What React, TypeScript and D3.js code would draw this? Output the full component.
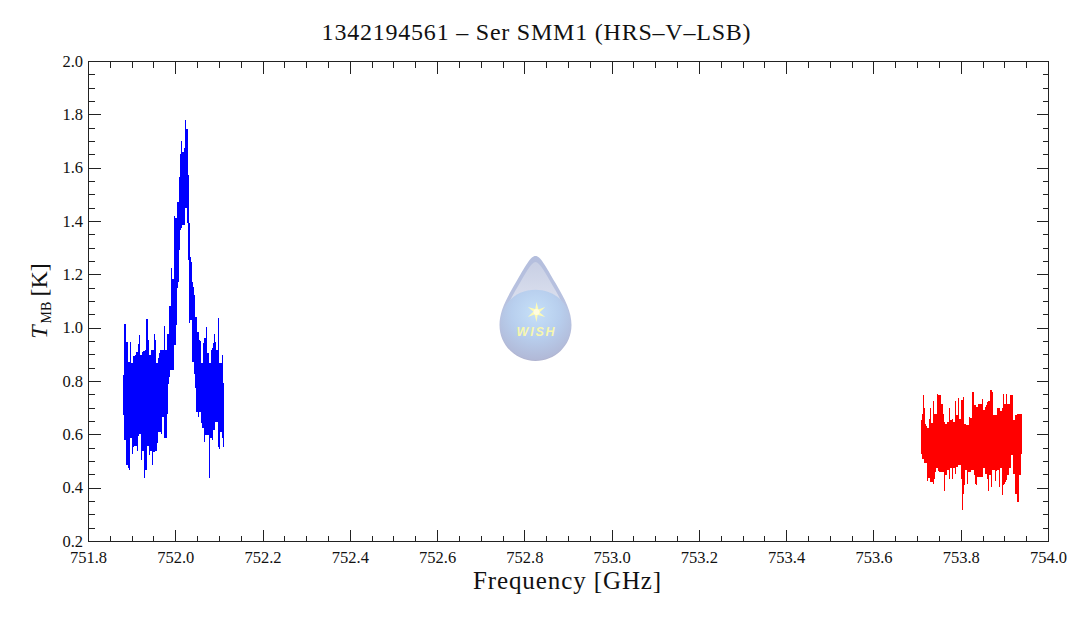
import * as d3 from 'd3'

const width = 1072
const height = 618

const title = '1342194561 – Ser SMM1 (HRS–V–LSB)'
const xLabels = ['751.8', '752.0', '752.2', '752.4', '752.6', '752.8', '753.0', '753.2', '753.4', '753.6', '753.8', '754.0']
const yLabels = ['0.2', '0.4', '0.6', '0.8', '1.0', '1.2', '1.4', '1.6', '1.8', '2.0']

// spectrum channels, one [high, low] envelope per binned frequency step
const channelStep = 0.0022917
const blueStart = 751.8802
const redStart = 753.709

const blueHigh = [
  0.824, 1.015, 1.015, 0.9, 0.948, 0.873, 0.835, 0.95, 0.861, 0.869, 0.895, 0.84, 0.9, 0.91, 0.9, 0.94, 0.974, 0.9, 0.884, 0.91,
  0.914, 0.88, 0.918, 1.035, 1.035, 0.955, 0.877, 0.9, 0.918, 0.918, 0.843, 0.98, 0.955, 0.861, 0.869, 0.89, 0.907, 0.918, 0.8, 0.92,
  0.92, 1.008, 0.873, 0.918, 0.98, 0.975, 1.083, 1.057, 1.226, 1.185, 1.18, 1.42, 1.414, 1.32, 1.474, 1.474, 1.568, 1.654, 1.703, 1.545,
  1.662, 1.677, 1.782, 1.748, 1.748, 1.575, 1.395, 1.267, 1.249, 1.173, 1.155, 1.124, 0.993, 1.042, 0.944, 0.985, 0.955, 0.952, 0.83, 0.869,
  0.944, 0.963, 0.955, 1.004, 0.869, 0.907, 0.854, 0.869, 0.918, 0.926, 0.944, 0.98, 0.949, 0.887, 0.918, 1.038, 0.84, 0.869, 0.869, 0.899,
  0.794
]
const blueLow = [
  0.674, 0.58, 0.628, 0.486, 0.565, 0.474, 0.47, 0.59, 0.587, 0.53, 0.553, 0.59, 0.56, 0.63, 0.54, 0.595, 0.605, 0.655, 0.504, 0.54,
  0.605, 0.437, 0.53, 0.47, 0.63, 0.56, 0.523, 0.54, 0.568, 0.486, 0.655, 0.534, 0.568, 0.538, 0.568, 0.636, 0.61, 0.674, 0.605, 0.674,
  0.666, 0.59, 0.59, 0.59, 0.68, 0.79, 0.816, 0.887, 0.843, 0.887, 0.843, 0.985, 0.937, 1.012, 1.15, 1.173, 1.294, 1.369, 1.376, 1.455,
  1.387, 1.387, 1.455, 1.451, 1.395, 1.256, 1.02, 1.03, 1.068, 0.873, 0.918, 0.83, 0.775, 0.685, 0.685, 0.666, 0.719, 0.685, 0.643, 0.625,
  0.635, 0.572, 0.62, 0.598, 0.61, 0.598, 0.44, 0.635, 0.587, 0.58, 0.625, 0.62, 0.655, 0.65, 0.655, 0.553, 0.548, 0.666, 0.61, 0.59,
  0.553
]
const redHigh = [
  0.655, 0.677, 0.749, 0.699, 0.639, 0.634, 0.624, 0.599, 0.661, 0.702, 0.645, 0.639, 0.727, 0.634, 0.68, 0.624, 0.755, 0.661, 0.749, 0.749,
  0.624, 0.717, 0.68, 0.649, 0.634, 0.642, 0.649, 0.636, 0.701, 0.636, 0.655, 0.661, 0.649, 0.63, 0.726, 0.639, 0.674, 0.739, 0.63, 0.661,
  0.73, 0.596, 0.742, 0.611, 0.642, 0.636, 0.636, 0.586, 0.667, 0.664, 0.661, 0.761, 0.761, 0.655, 0.711, 0.705, 0.667, 0.714, 0.667, 0.717,
  0.699, 0.736, 0.692, 0.617, 0.705, 0.711, 0.724, 0.727, 0.671, 0.77, 0.77, 0.761, 0.674, 0.667, 0.674, 0.671, 0.699, 0.655, 0.701, 0.63,
  0.689, 0.701, 0.752, 0.717, 0.699, 0.755, 0.661, 0.717, 0.661, 0.751, 0.649, 0.749, 0.655, 0.655, 0.674, 0.661, 0.68, 0.68, 0.661, 0.68,
  0.68
]
const redLow = [
  0.53, 0.509, 0.524, 0.495, 0.495, 0.495, 0.426, 0.474, 0.439, 0.424, 0.424, 0.449, 0.414, 0.436, 0.459, 0.511, 0.476, 0.464, 0.459, 0.459,
  0.524, 0.459, 0.486, 0.389, 0.449, 0.449, 0.467, 0.486, 0.436, 0.474, 0.536, 0.436, 0.53, 0.474, 0.455, 0.486, 0.48, 0.486, 0.486, 0.514,
  0.436, 0.317, 0.38, 0.411, 0.467, 0.524, 0.417, 0.511, 0.461, 0.461, 0.486, 0.467, 0.467, 0.449, 0.417, 0.411, 0.486, 0.442, 0.474, 0.442,
  0.474, 0.442, 0.474, 0.492, 0.455, 0.474, 0.436, 0.389, 0.449, 0.486, 0.405, 0.467, 0.467, 0.542, 0.426, 0.464, 0.467, 0.467, 0.405, 0.474,
  0.476, 0.374, 0.411, 0.417, 0.424, 0.43, 0.455, 0.449, 0.492, 0.474, 0.524, 0.524, 0.455, 0.455, 0.38, 0.449, 0.349, 0.349, 0.449, 0.449,
  0.53
]

const x = d3.scaleLinear().domain([751.8, 754.0]).range([88.5, 1048.5])
const y = d3.scaleLinear().domain([0.2, 2.0]).range([541.5, 61.5])

const axisColor = '#222'
const serif = '"Liberation Serif", serif'

const Spectrum = ({ start, high, low, color }) => (
  <g stroke={color} strokeWidth={1} shapeRendering='crispEdges'>
    {high.map((h, i) => {
      const px = Math.round(x(start + i * channelStep) - 0.5) + 0.5
      // the trace is one connected line, so a channel also covers what both neighbours cover
      const prev = Math.max(i - 1, 0)
      const next = Math.min(i + 1, high.length - 1)
      const top = Math.max(h, Math.min(high[prev], high[next]))
      const bottom = Math.min(low[i], Math.max(low[prev], low[next]))
      return <line key={i} x1={px} x2={px} y1={y(top)} y2={y(bottom)} />
    })}
  </g>
)

const Logo = () => (
  <g transform='translate(535.5 256)'>
    <defs>
      <linearGradient id='dropBody' x1='0' x2='0' y1='0' y2='1'>
        <stop offset='0' stopColor='#b4bedd' />
        <stop offset='0.6' stopColor='#b9c3e1' />
        <stop offset='1' stopColor='#b0b4d0' />
      </linearGradient>
      <linearGradient id='dropShine' x1='0' x2='0' y1='0' y2='1'>
        <stop offset='0' stopColor='#c8cfe4' />
        <stop offset='1' stopColor='#e2e6f2' />
      </linearGradient>
      <radialGradient id='dropCore' cx='0.5' cy='0.33' r='0.68'>
        <stop offset='0' stopColor='#c6e0f8' />
        <stop offset='0.5' stopColor='#b8cfee' />
        <stop offset='1' stopColor='#b1b8d6' />
      </radialGradient>
    </defs>
    <path d='M0 0 C5 0 10 10 20 27 C30 44 36 56 36 69 C36 90 19 105 0 105 C-19 105 -36 90 -36 69 C-36 56 -30 44 -20 27 C-10 10 -5 0 0 0 Z' fill='url(#dropBody)' />
    <path d='M0 6 C4 6 10 17 18 31 C25 43 30 52 31 62 L-31 62 C-30 52 -25 43 -18 31 C-10 17 -4 6 0 6 Z' fill='url(#dropShine)' />
    <path d='M-35 69 C-35 22 35 22 35 69 C35 90 18 104 0 104 C-18 104 -35 90 -35 69 Z' fill='url(#dropCore)' />
    {[0, 60, 120].map((a) => (
      <path key={a} d='M0 -10 L2 -2 L0 10 L-2 2 Z' transform={`translate(1 56) rotate(${a})`} fill='#fdfbb4' />
    ))}
    <circle cx={1} cy={56} r={3} fill='#fffde0' />
    <text x={1} y={80} textAnchor='middle' fontFamily='"Liberation Sans", sans-serif' fontWeight='bold' fontStyle='italic' fontSize={12.5} letterSpacing={1.8} fill='#f7f7ae'>
      WISH
    </text>
  </g>
)

const Axes = () => {
  const xMinor = d3.range(0, 45).map((i) => 751.8 + i * 0.05)
  const yMinor = d3.range(0, 37).map((i) => 0.2 + i * 0.05)
  const [left, right] = x.range()
  const [bottom, top] = y.range()
  return (
    <g stroke={axisColor} strokeWidth={1} shapeRendering='crispEdges'>
      {xMinor.map((v, i) => {
        const len = i % 4 === 0 ? 12 : 6
        const px = Math.round(x(v) - 0.5) + 0.5
        return (
          <g key={i}>
            <line x1={px} x2={px} y1={bottom} y2={bottom - len} />
            <line x1={px} x2={px} y1={top} y2={top + len} />
          </g>
        )
      })}
      {yMinor.map((v, i) => {
        const len = i % 4 === 0 ? 12 : 6
        const py = Math.round(y(v) - 0.5) + 0.5
        return (
          <g key={i}>
            <line x1={left} x2={left + len} y1={py} y2={py} />
            <line x1={right} x2={right - len} y1={py} y2={py} />
          </g>
        )
      })}
      <rect x={left} y={top} width={right - left} height={bottom - top} fill='none' />
    </g>
  )
}

const App = () => {
  return (
    <svg width={width} height={height} style={{ position: 'absolute', left: 0, top: 0, background: 'white' }} fontFamily={serif}>
      <text x={536.5} y={40} textAnchor='middle' fontSize={24} letterSpacing={0.78} fill='#111'>
        {title}
      </text>
      <Logo />
      <Spectrum start={blueStart} high={blueHigh} low={blueLow} color='#0000ff' />
      <Spectrum start={redStart} high={redHigh} low={redLow} color='#ff0000' />
      <Axes />
      {xLabels.map((l) => (
        <text key={l} x={x(+l)} y={563} textAnchor='middle' fontSize={16.5} fill='#111'>
          {l}
        </text>
      ))}
      {yLabels.map((l) => (
        <text key={l} x={83} y={y(+l) + 5} textAnchor='end' fontSize={16.5} fill='#111'>
          {l}
        </text>
      ))}
      <text x={567.5} y={589} textAnchor='middle' fontSize={25} letterSpacing={0.9} fill='#111'>
        Frequency [GHz]
      </text>
      <text transform='translate(47 301) rotate(-90)' textAnchor='middle' fontSize={24} fill='#111'>
        <tspan fontStyle='italic'>T</tspan>
        <tspan fontSize={14} dy={4} dx={2}>MB</tspan>
        <tspan dy={-4} dx={5}>[K]</tspan>
      </text>
    </svg>
  )
}

export default App
